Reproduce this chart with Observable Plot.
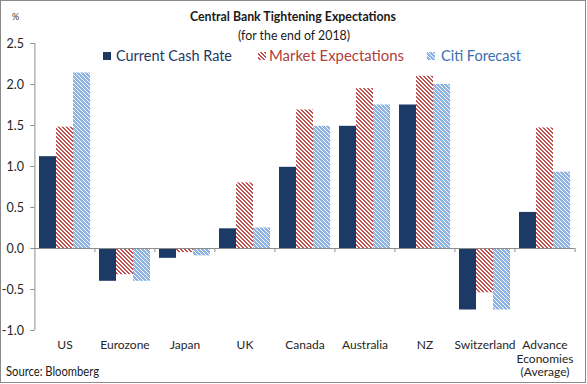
<!DOCTYPE html>
<html><head><meta charset="utf-8">
<script src="https://cdn.jsdelivr.net/npm/d3@7"></script>
<script src="https://cdn.jsdelivr.net/npm/@observablehq/plot@0.6"></script>
<style>
body{margin:0;background:#fff}
#wrap{position:relative;width:587px;height:384px;overflow:hidden;background:#fff}
#wrap svg{position:absolute;left:0;top:0}
</style></head><body><div id="wrap"></div><script>
const categories = ["US","Eurozone","Japan","UK","Canada","Australia","NZ","Switzerland","Advance\nEconomies\n(Average)"];
const seriesNames = ["Current Cash Rate","Market Expectations","Citi Forecast"];
const currentCashRate = [1.12,-0.40,-0.12,0.24,0.99,1.49,1.75,-0.75,0.44];
const marketExpectations = [1.48,-0.32,-0.05,0.80,1.69,1.95,2.10,-0.54,1.47];
const citiForecast = [2.14,-0.40,-0.09,0.25,1.49,1.75,2.00,-0.75,0.93];
const yTicks = [-1,-0.5,0,0.5,1,1.5,2,2.5];

const seriesValues = [currentCashRate, marketExpectations, citiForecast];
const rows = [];
categories.forEach((c,i)=>seriesNames.forEach((s,j)=>rows.push({category:c, series:s, value:seriesValues[j][i]})));
const bySeries = s => rows.filter(d=>d.series===s);

const navy = "#1C3A66", grid = "#8c8c8c";
const chart = Plot.plot({
  width:587, height:384,
  marginLeft:32, marginRight:10, marginTop:43, marginBottom:54,
  style:{fontFamily:"Lato, 'Open Sans', sans-serif", fontSize:"12px", color:"#262626", background:"none"},
  fx:{domain:categories, paddingInner:0.15, paddingOuter:0.075, label:null, axis:null},
  x:{domain:seriesNames, padding:0, axis:null},
  y:{domain:[-1,2.5], label:null, axis:null},
  marks:[
    Plot.barY(bySeries(seriesNames[0]), {fx:"category", x:"series", y:"value", fill:navy}),
    Plot.barY(bySeries(seriesNames[1]), {fx:"category", x:"series", y:"value", fill:"url(#hatchMarket)"}),
    Plot.barY(bySeries(seriesNames[2]), {fx:"category", x:"series", y:"value", fill:"url(#hatchCiti)"}),
    Plot.ruleY([0], {stroke:grid, insetLeft:-4.6, insetRight:-4.6}),
    Plot.ruleX([categories[0]], {fx:d=>d, x:()=>seriesNames[0], dx:-13.1, y1:-1, y2:2.5, stroke:grid}),
    Plot.ruleX(categories.slice(1), {fx:d=>d, x:()=>seriesNames[0], dx:-13.1, y1:0, y2:-0.05, stroke:grid}),
    Plot.ruleX([categories[categories.length-1]], {fx:d=>d, x:()=>seriesNames[2], dx:13.1, y1:0, y2:-0.05, stroke:grid}),
    Plot.axisY({ticks:yTicks, tickFormat:d=>d.toFixed(1), tickSize:4, tickPadding:7, stroke:grid, dx:-4.55, fontSize:12.5}),
    Plot.axisFx({anchor:"bottom", tickSize:0, tickPadding:9, lineHeight:1.13})
  ]
});

const defs = d3.select(chart).insert("defs", ":first-child");
function hatch(sel, id, bg, fg, widthPx){
  const p = sel.append("pattern").attr("id",id).attr("patternUnits","userSpaceOnUse").attr("width",4).attr("height",4)
    .attr("shape-rendering","crispEdges");
  p.append("rect").attr("width",4).attr("height",4).attr("fill",bg);
  for (let r=0;r<4;r++) for (let k=0;k<widthPx;k++)
    p.append("rect").attr("x",(r+k)%4).attr("y",r).attr("width",1).attr("height",1).attr("fill",fg);
}
hatch(defs, "hatchMarket", "#fff", "#C0504D", 2);
hatch(defs, "hatchCiti", "#8DB3E2", "#fff", 1);

const wrap = document.getElementById("wrap");
wrap.appendChild(chart);

const ov = d3.select(wrap).append("svg").attr("width",587).attr("height",384).style("pointer-events","none")
  .style("font-family","Lato, 'Open Sans', sans-serif");
const d2 = ov.append("defs");
hatch(d2, "hatchMarketL", "#fff", "#C0504D", 2);
hatch(d2, "hatchCitiL", "#8DB3E2", "#fff", 1);
ov.append("rect").attr("x",0.5).attr("y",0.5).attr("width",585).attr("height",382).attr("fill","none").attr("stroke","#8a8a8a");
ov.append("text").attr("x",293).attr("y",21).attr("text-anchor","middle").attr("font-weight","bold").attr("font-size",13)
  .attr("fill","#1a1a1a").attr("textLength",206).attr("lengthAdjust","spacingAndGlyphs").text("Central Bank Tightening Expectations");
ov.append("text").attr("x",294).attr("y",40).attr("text-anchor","middle").attr("font-size",13)
  .attr("fill","#1a1a1a").attr("textLength",112).attr("lengthAdjust","spacingAndGlyphs").text("(for the end of 2018)");
ov.append("text").attr("x",12).attr("y",20).attr("font-size",9).attr("fill","#333").text("%");
ov.append("text").attr("x",6).attr("y",376).attr("font-size",13).attr("fill","#1a1a1a")
  .attr("textLength",93).attr("lengthAdjust","spacingAndGlyphs").text("Source: Bloomberg");

const legend = [
  {name:seriesNames[0], sx:103, tx:116, tw:116, fill:navy, color:"#1F3864"},
  {name:seriesNames[1], sx:258, tx:269, tw:135, fill:"url(#hatchMarketL)", color:"#B0403C"},
  {name:seriesNames[2], sx:427, tx:441, tw:80, fill:"url(#hatchCitiL)", color:"#3A6FB0"}
];
legend.forEach(l=>{
  ov.append("rect").attr("x",l.sx).attr("y",52).attr("width",8).attr("height",8).attr("fill",l.fill);
  ov.append("text").attr("x",l.tx).attr("y",61).attr("font-size",15.5).attr("fill",l.color)
    .attr("textLength",l.tw).attr("lengthAdjust","spacingAndGlyphs").text(l.name);
});
</script></body></html>
